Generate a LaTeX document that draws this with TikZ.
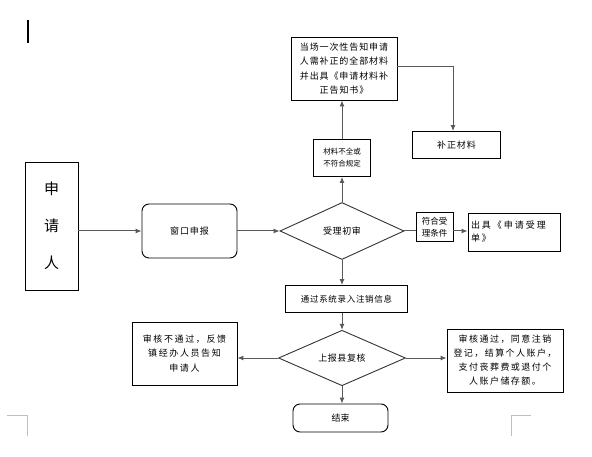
\documentclass[tikz,border=0pt]{standalone}
\usepackage{fontspec}
\setmainfont{Noto Sans CJK SC}
\usetikzlibrary{arrows.meta,shapes.geometric}
\tikzset{
  box/.style={draw=black, line width=0.9pt, inner sep=1pt, align=center, font=\fontsize{9}{14.5}\selectfont\addfontfeature{LetterSpace=10}},
  rbox/.style={box, rounded corners=7pt},
  dia/.style={draw=black!80, line width=0.9pt, shape=diamond, inner sep=0pt, font=\fontsize{9}{12}\selectfont\addfontfeature{LetterSpace=6}},
  conn/.style={draw=black!65, line width=1pt, -{Latex[length=6pt,width=5pt]}},
  plain/.style={draw=black!65, line width=1pt},
  cropmark/.style={draw=black!25, line width=0.8pt}
}
\begin{document}
\begin{tikzpicture}[x=1pt,y=-1pt]
\useasboundingbox (0,0) rectangle (592,457);
% margin marks
\draw[line width=2pt] (28,20) -- (28,43);
\draw[cropmark] (7,415) -- (27,415) -- (27,436);
\draw[cropmark] (531,415) -- (511,415) -- (511,436);
% nodes
\node[box, minimum width=53pt, minimum height=128pt, font=\fontsize{15}{37}\selectfont] (sq) at (51.5,226) {申\\请\\人};
\node[rbox, minimum width=95pt, minimum height=54pt, font=\fontsize{9}{12}\selectfont\addfontfeature{LetterSpace=10}] (ck) at (189.5,231) {窗口申报};
\node[dia, minimum width=124pt, minimum height=57pt] (d1) at (342,231) {受理初审};
\node[box, minimum width=57pt, minimum height=37pt, font=\fontsize{7.5}{12}\selectfont] (bq) at (342,158) {材料不全或\\不符合规定};
\node[box, minimum width=106pt, minimum height=63pt] (gz) at (344,68.5) {当场一次性告知申请\\人需补正的全部材料\\并出具《申请材料补\\正告知书》};
\node[box, minimum width=88pt, minimum height=27pt, font=\fontsize{9}{12}\selectfont\addfontfeature{LetterSpace=10}] (bz) at (456.5,145) {补正材料};
\node[box, minimum width=37pt, minimum height=29pt, font=\fontsize{8.5}{12}\selectfont] (fh) at (434.5,227) {符合受\\理条件};
\node[box, minimum width=92pt, minimum height=38pt, font=\fontsize{9}{13}\selectfont\addfontfeature{LetterSpace=22}, align=left, text width=86pt] (cj) at (514,232) {出具《申请受理\\单》};
\node[box, minimum width=122pt, minimum height=27pt, font=\fontsize{8.5}{12}\selectfont\addfontfeature{LetterSpace=8}] (lr) at (346.5,299) {通过系统录入注销信息};
\node[dia, minimum width=127pt, minimum height=53pt] (d2) at (342,358) {上报县复核};
\node[rbox, minimum width=95pt, minimum height=28pt, font=\fontsize{9}{12}\selectfont] (js) at (340.5,418) {结束};
\node[box, minimum width=105pt, minimum height=63pt, font=\fontsize{9}{14.5}\selectfont\addfontfeature{LetterSpace=18}] (bt) at (184.5,353.5) {审核不通过，反馈\\镇经办人员告知\\申请人};
\node[box, minimum width=116pt, minimum height=63pt, font=\fontsize{9}{14}\selectfont\addfontfeature{LetterSpace=16}] (tg) at (505,360.5) {审核通过，同意注销\\登记，结算个人账户，\\支付丧葬费或退付个\\人账户储存额。};
% connectors
\draw[conn] (sq.east |- ck.west) -- (ck.west);
\draw[conn] (ck.east) -- (d1.west);
\draw[conn] (d1.north) -- (d1.north |- bq.south);
\draw[conn] (bq.north) -- (bq.north |- gz.south);
\coordinate (turn) at (453,67);
\draw[conn] (gz.east |- turn) -- (turn) -- (turn |- bz.north);
\draw[plain] (d1.east) -- (fh.west |- d1.east);
\draw[conn] (fh.east |- d1.east) -- (cj.west |- d1.east);
\draw[conn] (d1.south) -- (d1.south |- lr.north);
\draw[conn] (d2.north |- lr.south) -- (d2.north);
\draw[conn] (d2.south) -- (d2.south |- js.north);
\draw[conn] (d2.west) -- (bt.east |- d2.west);
\draw[conn] (d2.east) -- (tg.west |- d2.east);
\end{tikzpicture}
\end{document}
